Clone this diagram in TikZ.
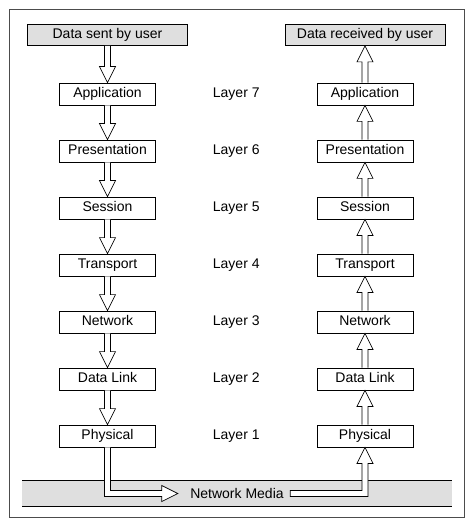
\documentclass[tikz,border=0pt]{standalone}
\usepackage{fontspec}
\setmainfont{Liberation Sans}
\usetikzlibrary{trees,calc}

\begin{document}
\begin{tikzpicture}[x = 1pt, y = 1pt,
  every node/.style = {font = \fontsize{14pt}{16pt}\selectfont},
  layerbox/.style = {draw, shape = rectangle, line width = 0.8pt, fill = white, minimum width = 96pt, minimum height = 22pt, inner sep = 0pt, text height = 10.5pt, text depth = 3pt},
  userbox/.style = {layerbox, fill = gray!25, minimum width = 160pt, minimum height = 21pt},
  hollow/.style = {draw, fill = white, line width = 0.7pt},
  sendtree/.style = {level 1/.style = {level distance = 59pt}, level 2/.style = {level distance = 57pt}, edge from parent/.style = {hollow},
    edge from parent path = {($(\tikzparentnode.south)+(-3pt,0)$) -- ($(\tikzchildnode.north)+(-3pt,16pt)$) -- ++(-5pt,0) -- (\tikzchildnode.north) -- ($(\tikzchildnode.north)+(8pt,16pt)$) -- ++(-5pt,0) -- ($(\tikzparentnode.south)+(3pt,0)$)}},
  recvtree/.style = {level 1/.style = {level distance = 59pt}, level 2/.style = {level distance = 57pt}, edge from parent/.style = {hollow},
    edge from parent path = {($(\tikzchildnode.north)+(-3pt,0)$) -- ($(\tikzparentnode.south)+(-3pt,-16pt)$) -- ++(-5pt,0) -- (\tikzparentnode.south) -- ($(\tikzparentnode.south)+(8pt,-16pt)$) -- ++(-5pt,0) -- ($(\tikzchildnode.north)+(3pt,0)$)}}]
\useasboundingbox (0,0) rectangle (474,-529);
\draw[black!70, line width = 0.8pt] (9.5,-9.5) rectangle (464,-517.5);
\fill[gray!25] (22,-480) rectangle (452,-506);
\draw[line width = 0.7pt] (22,-480) -- (452,-480) (22,-506) -- (452,-506);

\begin{scope}[sendtree]
\node[userbox] (sent) at (107.5,-35) {Data sent by user}
child {node[layerbox] (lappl) {Application}
child {node[layerbox] (lpres) {Presentation}
child {node[layerbox] (lsess) {Session}
child {node[layerbox] (ltrans) {Transport}
child {node[layerbox] (lnet) {Network}
child {node[layerbox] (llink) {Data Link}
child {node[layerbox] (lphys) {Physical}
}}}}}}};
\end{scope}

\begin{scope}[recvtree]
\node[userbox] (recv) at (365,-35) {Data received by user}
child {node[layerbox] (rappl) {Application}
child {node[layerbox] (rpres) {Presentation}
child {node[layerbox] (rsess) {Session}
child {node[layerbox] (rtrans) {Transport}
child {node[layerbox] (rnet) {Network}
child {node[layerbox] (rlink) {Data Link}
child {node[layerbox] (rphys) {Physical}
}}}}}}};
\end{scope}

\path (lappl) -- (rappl) node[midway] (l7) {Layer 7};
\path (lpres) -- (rpres) node[midway] (l6) {Layer 6};
\path (lsess) -- (rsess) node[midway] (l5) {Layer 5};
\path (ltrans) -- (rtrans) node[midway] (l4) {Layer 4};
\path (lnet) -- (rnet) node[midway] (l3) {Layer 3};
\path (llink) -- (rlink) node[midway] (l2) {Layer 2};
\path (lphys) -- (rphys) node[midway] (l1) {Layer 1};

\node (media) at (237,-493.5) {Network Media};
\draw[hollow] ($(lphys.south)+(-3pt,0)$) |- ($(media.west)+(-25pt,-3pt)$) -- ++(0,-5pt) -- ($(media.west)+(-9pt,0)$) -- ($(media.west)+(-25pt,8pt)$) -- ++(0,-5pt) -| ($(lphys.south)+(3pt,0)$);
\draw[hollow] ($(media.east)+(3pt,3pt)$) -| ($(rphys.south)+(-3pt,-16pt)$) -- ++(-5pt,0) -- (rphys.south) -- ($(rphys.south)+(8pt,-16pt)$) -- ++(-5pt,0) |- ($(media.east)+(3pt,-3pt)$) -- cycle;
\end{tikzpicture}
\end{document}
